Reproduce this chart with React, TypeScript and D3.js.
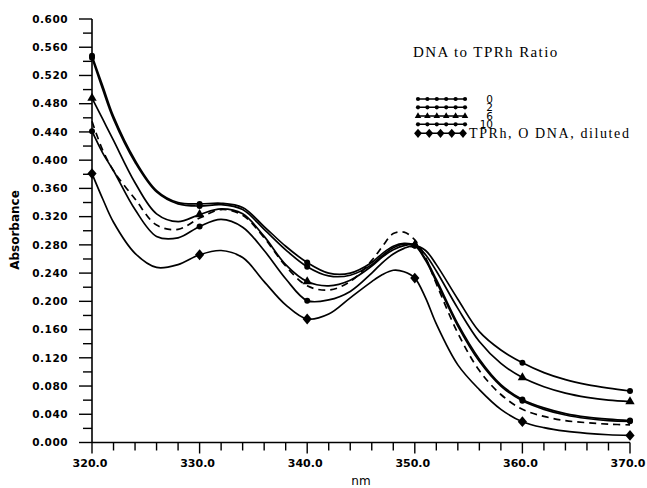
import React from "react";
import * as d3 from "d3";

const wavelengths = [320, 321, 322, 324, 326, 328, 330, 332, 334, 336, 338, 340, 342, 344, 346, 347, 348, 349, 350, 351, 352, 354, 356, 358, 360, 362, 364, 366, 368, 370];

const ratio0 = [0.548, 0.505, 0.462, 0.400, 0.357, 0.340, 0.338, 0.339, 0.333, 0.306, 0.278, 0.255, 0.240, 0.240, 0.255, 0.268, 0.278, 0.282, 0.279, 0.258, 0.228, 0.165, 0.115, 0.080, 0.059, 0.047, 0.039, 0.034, 0.031, 0.030];
const ratio2 = [0.545, 0.500, 0.458, 0.397, 0.355, 0.338, 0.335, 0.337, 0.330, 0.302, 0.273, 0.249, 0.236, 0.237, 0.252, 0.265, 0.276, 0.281, 0.279, 0.260, 0.231, 0.168, 0.118, 0.082, 0.061, 0.049, 0.041, 0.036, 0.033, 0.031];
const ratio6 = [0.488, 0.458, 0.428, 0.368, 0.324, 0.313, 0.323, 0.331, 0.324, 0.292, 0.252, 0.228, 0.222, 0.230, 0.250, 0.263, 0.273, 0.279, 0.280, 0.266, 0.243, 0.190, 0.143, 0.112, 0.092, 0.079, 0.070, 0.064, 0.060, 0.058];
const ratio10 = [0.441, 0.410, 0.385, 0.330, 0.292, 0.290, 0.306, 0.316, 0.305, 0.272, 0.232, 0.201, 0.202, 0.214, 0.240, 0.255, 0.267, 0.275, 0.279, 0.272, 0.252, 0.203, 0.157, 0.131, 0.113, 0.099, 0.089, 0.082, 0.077, 0.073];
const dilutedValues = [0.381, 0.345, 0.312, 0.268, 0.248, 0.252, 0.266, 0.272, 0.262, 0.228, 0.195, 0.175, 0.182, 0.205, 0.228, 0.238, 0.244, 0.242, 0.233, 0.205, 0.168, 0.110, 0.075, 0.047, 0.0295, 0.021, 0.016, 0.013, 0.011, 0.010];
const dashedValues = [0.455, 0.414, 0.385, 0.345, 0.308, 0.302, 0.318, 0.330, 0.322, 0.290, 0.250, 0.222, 0.216, 0.228, 0.258, 0.278, 0.296, 0.298, 0.287, 0.262, 0.225, 0.155, 0.102, 0.068, 0.047, 0.037, 0.031, 0.028, 0.026, 0.025];

const markerWavelengths = [320, 330, 340, 350, 360, 370];
const legendTitle = "DNA to TPRh Ratio";
const legendLabels = ["0", "2", "6", "10", "TPRh, O DNA, diluted"];
const xLabelTicks = [320, 330, 340, 350, 360, 370];
const yLabelTicks = [0, 0.04, 0.08, 0.12, 0.16, 0.2, 0.24, 0.28, 0.32, 0.36, 0.4, 0.44, 0.48, 0.52, 0.56, 0.6];
const xTitle = "nm";
const yTitle = "Absorbance";

type Marker = "circle" | "triangle" | "diamond" | "none";

const series: { name: string; values: number[]; marker: Marker; dashed: boolean }[] = [
  { name: legendLabels[0], values: ratio0, marker: "circle", dashed: false },
  { name: legendLabels[1], values: ratio2, marker: "circle", dashed: false },
  { name: legendLabels[2], values: ratio6, marker: "triangle", dashed: false },
  { name: legendLabels[3], values: ratio10, marker: "circle", dashed: false },
  { name: legendLabels[4], values: dilutedValues, marker: "diamond", dashed: false },
  { name: "dashed", values: dashedValues, marker: "none", dashed: true },
];

const W = 647;
const H = 488;

function MarkerShape({ kind, cx, cy, s = 1 }: { kind: Marker; cx: number; cy: number; s?: number }) {
  if (kind === "circle") return <circle cx={cx} cy={cy} r={3 * s} fill="#000" />;
  if (kind === "triangle") {
    const p = d3.symbol(d3.symbolTriangle, 38 * s * s)() as string;
    return <path d={p} transform={`translate(${cx},${cy})`} fill="#000" />;
  }
  if (kind === "diamond") {
    const hw = 4.6 * s, hh = 5.4 * s;
    return <path d={`M${cx},${cy - hh}L${cx + hw},${cy}L${cx},${cy + hh}L${cx - hw},${cy}Z`} fill="#000" />;
  }
  return null;
}

export default function App() {
  const x = d3.scaleLinear().domain([320, 370]).range([92, 630]);
  const y = d3.scaleLinear().domain([0, 0.6]).range([442.5, 19]);

  const line = d3
    .line<number>()
    .x((_, i) => x(wavelengths[i]))
    .y((d) => y(d))
    .curve(d3.curveCatmullRom.alpha(0.5));

  const yMinor = d3.range(0, 0.6001, 0.02);
  const xMinor = d3.range(320, 370.01, 2);
  const fmtY = d3.format(".3f");
  const fmtX = d3.format(".1f");

  const legendRows = [99, 107.3, 116, 124.3, 133.3];

  return (
    <svg width={W} height={H} style={{ position: "absolute", left: 0, top: 0, background: "#fff" }}>
      <rect x={0} y={0} width={W} height={H} fill="#fff" />
      {/* Y axis */}
      <line x1={x(320)} x2={x(320)} y1={y(0)} y2={y(0.6)} stroke="#000" strokeWidth={1.6} />
      {yMinor.map((t, i) => {
        const major = i % 2 === 0;
        return (
          <line key={i} x1={x(320) - (major ? 13 : 9)} x2={x(320)} y1={y(t)} y2={y(t)} stroke="#000" strokeWidth={1.4} />
        );
      })}
      {yLabelTicks.map((t) => (
        <text key={t} x={68} y={y(t)} dy="0.36em" textAnchor="end" fontFamily="DejaVu Sans" fontWeight="bold" fontSize={10.5} letterSpacing={0.5}>
          {fmtY(t)}
        </text>
      ))}
      {/* X axis */}
      <line x1={x(320)} x2={x(370)} y1={y(0)} y2={y(0)} stroke="#000" strokeWidth={1.6} />
      {xMinor.map((t, i) => {
        const major = i % 5 === 0;
        return (
          <line key={i} x1={x(t)} x2={x(t)} y1={y(0)} y2={y(0) + (major ? 11 : 8)} stroke="#000" strokeWidth={1.4} />
        );
      })}
      {xLabelTicks.map((t) => (
        <text key={t} x={x(t) - 2} y={467} textAnchor="middle" fontFamily="DejaVu Sans" fontWeight="bold" fontSize={11}>
          {fmtX(t)}
        </text>
      ))}
      <text x={361} y={485} textAnchor="middle" fontFamily="DejaVu Sans" fontSize={12}>
        {xTitle}
      </text>
      <text transform={`translate(19,230) rotate(-90)`} textAnchor="middle" fontFamily="DejaVu Sans" fontWeight="bold" fontSize={12}>
        {yTitle}
      </text>

      {/* Curves */}
      {series.map((s) => (
        <path
          key={s.name}
          d={line(s.values) as string}
          fill="none"
          stroke="#000"
          strokeWidth={1.7}
          strokeDasharray={s.dashed ? "7,5" : undefined}
        />
      ))}
      {series.map((s) =>
        markerWavelengths.map((w) => {
          const idx = wavelengths.indexOf(w);
          return <MarkerShape key={s.name + w} kind={s.marker} cx={x(w)} cy={y(s.values[idx])} />;
        })
      )}

      {/* Legend */}
      <text x={413} y={57} fontFamily="Liberation Serif" fontSize={15} letterSpacing={1.4}>
        {legendTitle}
      </text>
      {series.slice(0, 5).map((s, i) => {
        const ly = legendRows[i];
        const isDiamond = s.marker === "diamond";
        const x0 = 418;
        const x1 = isDiamond ? 463 : 465;
        const n = isDiamond ? 5 : 6;
        const pts = d3.range(n).map((k) => x0 + ((x1 - x0) * k) / (n - 1));
        return (
          <g key={s.name}>
            <line x1={x0} x2={x1} y1={ly} y2={ly} stroke="#000" strokeWidth={1.5} />
            {pts.map((px, k) => (
              <MarkerShape key={k} kind={s.marker} cx={px} cy={ly} s={isDiamond ? 0.85 : 0.7} />
            ))}
            {isDiamond ? (
              <text x={469} y={ly + 5} fontFamily="Liberation Serif" fontSize={14} letterSpacing={1.6}>
                {s.name}
              </text>
            ) : (
              <text x={493} y={ly + 3.8} textAnchor="end" fontFamily="DejaVu Sans" fontSize={10.5}>
                {s.name}
              </text>
            )}
          </g>
        );
      })}
    </svg>
  );
}
